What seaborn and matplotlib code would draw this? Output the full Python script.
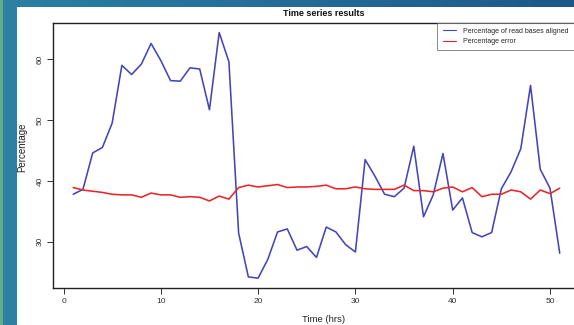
import numpy as np
import pandas as pd
import matplotlib
matplotlib.use("Agg")
import matplotlib.pyplot as plt
from matplotlib.patches import Rectangle
import seaborn as sns

# ---- data ----
hours = list(range(1, 52))
aligned = [37.8, 38.6, 44.6, 45.5, 49.5, 59.0, 57.5, 59.2, 62.6, 59.8,
           56.5, 56.4, 58.6, 58.4, 51.7, 64.4, 59.6, 31.4, 24.2, 24.0,
           27.1, 31.6, 32.1, 28.6, 29.2, 27.4, 32.4, 31.6, 29.5, 28.3,
           43.5, 40.8, 37.8, 37.4, 38.8, 45.7, 34.1, 37.7, 44.5, 35.2,
           37.2, 31.5, 30.8, 31.5, 38.7, 41.5, 45.3, 55.7, 41.9, 38.8,
           28.1]
error = [38.9, 38.5, 38.3, 38.1, 37.8, 37.7, 37.7, 37.3, 38.0, 37.7,
         37.7, 37.3, 37.4, 37.3, 36.7, 37.5, 37.0, 38.9, 39.3, 39.0,
         39.2, 39.4, 38.9, 39.0, 39.0, 39.1, 39.3, 38.7, 38.7, 39.0,
         38.7, 38.6, 38.6, 38.6, 39.3, 38.4, 38.4, 38.2, 38.8, 39.0,
         38.2, 38.9, 37.4, 37.8, 37.8, 38.5, 38.2, 37.0, 38.5, 37.9,
         38.8]
series_names = ["Percentage of read bases aligned", "Percentage error"]
x_ticks = [0, 10, 20, 30, 40, 50]
y_ticks = [30, 40, 50, 60]
title = "Time series results"
xlabel = "Time (hrs)"
ylabel = "Percentage"

df = pd.DataFrame({
    "hour": hours * 2,
    "value": aligned + error,
    "series": [series_names[0]] * len(hours) + [series_names[1]] * len(hours),
})

sns.set_theme(style="white")
plt.rcParams['font.family'] = ['Liberation Sans', 'DejaVu Sans']

W, H = 574, 325
fig = plt.figure(figsize=(W / 100, H / 100), dpi=100)
fig.patch.set_facecolor("white")

# ---- slide-like background decoration ----
bg = fig.add_axes([0, 0, 1, 1])
bg.set_axis_off()
grad = np.linspace(0, 1, 256)
c0 = np.array([0x2b, 0x80, 0xa3]) / 255
c1 = np.array([0x1d, 0x58, 0x8a]) / 255
img = (c0[None, :] * (1 - grad[:, None]) + c1[None, :] * grad[:, None])[None, :, :]
bg.imshow(img, extent=(0, W, 7.5, 0), aspect="auto", zorder=1)
bg.add_patch(Rectangle((0, 0), 17, H, color="#2b80a3", zorder=2, lw=0))
bg.add_patch(Rectangle((0, 0), 2.5, H, color="#63ad86", zorder=3, lw=0))
bg.set_xlim(0, W)
bg.set_ylim(H, 0)

# ---- main axes (extends past the right edge, as in the cropped reference) ----
left, right, top, bottom = 53, 590, 22.7, 288
ax = fig.add_axes([left / W, (H - bottom) / H, (right - left) / W, (bottom - top) / H])
ax.set_facecolor("white")
sns.lineplot(data=df, x="hour", y="value", hue="series",
             palette=["#4545b8", "#e8262a"], linewidth=1.15, ax=ax)
px_per_unit = 9.73
x0_px = 63.5
ax.set_xlim((left - x0_px) / px_per_unit, (right - x0_px) / px_per_unit)
ax.set_ylim(22.38, 66.02)
ax.set_xticks(x_ticks)
ax.set_yticks(y_ticks)
ax.set_xticklabels([str(t) for t in x_ticks])
ax.set_yticklabels([str(t) for t in y_ticks], rotation=90, va="center")
ax.tick_params(axis="both", direction="out", length=4, width=0.7,
               color="#333333", labelsize=6, labelcolor="#333333", pad=3.5,
               left=True, bottom=True)
ax.tick_params(axis="y", pad=2.5)
for s in ax.spines.values():
    s.set_color("#222222")
    s.set_linewidth(1.0)
ax.set_xlabel("")
ax.set_ylabel("")

handles, labels = ax.get_legend_handles_labels()
ax.get_legend().remove()
leg = ax.legend(handles, labels, loc="upper right",
                bbox_to_anchor=(573.5 / W, 1 - top / H),
                bbox_transform=fig.transFigure, borderaxespad=0,
                fontsize=5.0, frameon=True, fancybox=False,
                edgecolor="#555555", handlelength=1.9, handletextpad=1.0,
                labelspacing=0.45, borderpad=0.75)
leg.get_frame().set_linewidth(0.6)
for line in leg.get_lines():
    line.set_linewidth(0.8)

fig.text(324 / W, 1 - 13 / H, title, ha="center", va="center",
         fontsize=6.5, fontweight="bold", color="#111111")
fig.text(324 / W, 1 - 319 / H, xlabel, ha="center", va="center",
         fontsize=6.8, color="#222222")
fig.text(22 / W, 1 - 147 / H, ylabel, ha="center", va="center",
         rotation=90, fontsize=7, color="#222222")

fig.savefig("out.png", dpi=100)
